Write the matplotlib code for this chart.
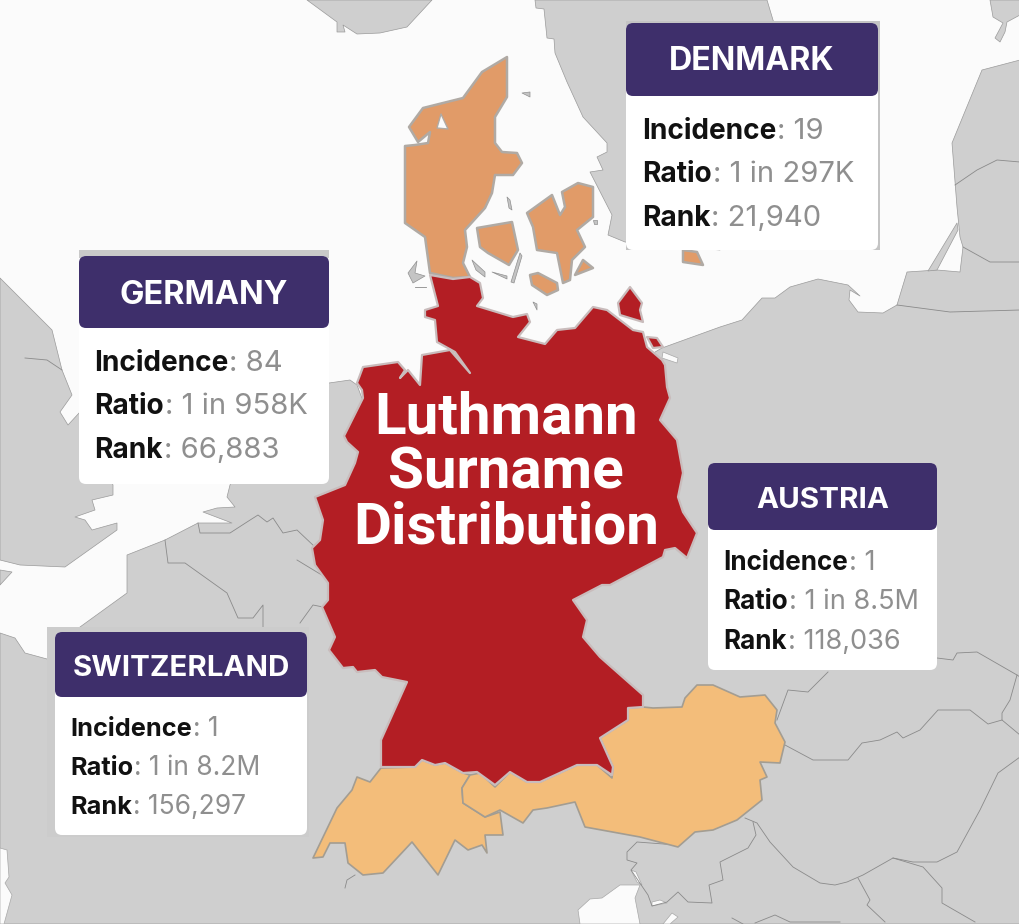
import matplotlib
matplotlib.use("Agg")
import matplotlib.pyplot as plt
from matplotlib.patches import FancyBboxPatch, Rectangle

# ---------- data: report cards ----------
countries = ["DENMARK", "GERMANY", "AUSTRIA", "SWITZERLAND"]
incidence = ["19", "84", "1", "1"]
ratio = ["1 in 297K", "1 in 958K", "1 in 8.5M", "1 in 8.2M"]
rank = ["21,940", "66,883", "118,036", "156,297"]
title_lines = ["Luthmann", "Surname", "Distribution"]

# ---------- data: map outlines ----------
germany = [(430,275),(453,279),(470,277),(480,283),(483,298),(477,306),(513,317),(527,314),(530,322),(518,337),(545,344),(557,330),(575,328),(593,307),(607,310),(633,330),(643,332),(647,347),(662,360),(665,365),(667,387),(670,398),(660,420),(677,440),(683,473),(678,497),(683,512),(697,533),(687,558),(675,548),(665,550),(663,557),(610,585),(602,585),(573,600),(587,620),(583,637),(600,657),(643,695),(643,707),(628,708),(628,720),(600,738),(613,767),(612,775),(597,765),(577,765),(540,782),(527,782),(510,772),(495,785),(477,772),(463,773),(445,763),(435,765),(422,760),(415,767),(381,767),(381,740),(407,682),(382,677),(375,670),(357,672),(353,667),(343,668),(329,650),(335,637),(322,607),(328,600),(328,583),(315,565),(312,548),(320,540),(323,520),(315,497),(345,485),(355,463),(358,452),(347,442),(344,436),(363,398),(362,390),(357,383),(363,367),(398,362),(405,370),(400,378),(408,370),(420,385),(422,355),(450,350),(470,373),(455,352),(437,342),(435,320),(425,317),(425,310),(438,306)]
ruegen = [(630,287),(642,303),(640,310),(643,322),(620,315),(618,303)]
usedom = [(647,337),(657,338),(663,347),(653,348)]
jutland = [(507,57),(482,72),(463,98),(423,108),(409,127),(418,142),(430,132),(428,143),(415,145),(405,146),(405,223),(425,237),(430,273),(453,278),(470,277),(463,263),(467,247),(465,230),(485,208),(492,193),(495,175),(513,175),(522,163),(517,153),(502,152),(495,143),(495,117),(507,97)]
jutland_notch = [(441,114),(437,128),(448,129)]
funen = [(477,228),(512,222),(518,250),(509,265),(488,253),(480,247)]
zealand = [(527,213),(552,195),(560,215),(565,207),(562,192),(578,183),(593,187),(593,217),(577,230),(585,247),(572,260),(570,280),(563,283),(557,253),(537,250),(533,227)]
lolland = [(530,275),(538,273),(557,283),(558,290),(547,295),(532,285)]
moen = [(575,275),(583,260),(593,268)]
bornholm = [(683,250),(697,252),(703,265),(683,262)]
austria = [(697,685),(713,685),(740,697),(765,695),(777,710),(775,723),(785,742),(780,763),(760,762),(767,777),(760,780),(762,800),(737,820),(713,830),(695,832),(678,847),(640,837),(585,827),(575,802),(547,808),(533,810),(523,823),(500,810),(485,817),(463,803),(462,788),(470,775),(480,773),(495,787),(510,772),(527,782),(540,782),(577,765),(597,765),(612,778),(613,767),(600,738),(628,720),(628,708),(643,707),(653,708),(682,707),(685,698)]
switzerland = [(313,858),(323,857),(330,843),(345,843),(348,863),(363,875),(383,873),(412,842),(438,875),(455,840),(468,850),(482,845),(487,853),(485,835),(503,835),(500,812),(485,817),(463,803),(462,788),(470,775),(463,773),(445,763),(435,765),(422,760),(415,767),(381,768),(370,782),(357,777),(352,790),(337,808)]

continent = [(0,633),(15,638),(25,653),(47,659),(80,627),(127,593),(127,555),(165,540),(198,523),(232,523),(203,512),(217,508),(235,507),(227,497),(230,485),(260,420),(329,383),(350,380),(357,385),(400,500),(662,348),(720,327),(742,320),(762,298),(775,298),(790,287),(818,279),(848,285),(860,296),(850,290),(849,300),(858,312),(883,313),(897,305),(907,272),(937,270),(960,272),(963,247),(960,237),(957,207),(952,143),(982,70),(1020,60),(1020,924),(0,924)]
britain = [(0,278),(52,330),(62,370),(72,395),(60,412),(68,425),(80,412),(113,485),(113,495),(92,500),(95,510),(75,517),(85,520),(92,530),(117,523),(117,530),(65,567),(20,565),(0,560)]
wight = [(0,570),(12,572),(0,585)]
sweden = [(535,0),(536,8),(544,9),(547,38),(554,39),(555,53),(567,82),(583,117),(607,143),(607,152),(597,157),(603,170),(590,172),(612,215),(608,235),(625,242),(720,250),(800,100),(773,20),(767,0)]
norway = [(307,0),(337,22),(337,32),(345,32),(343,25),(357,34),(380,33),(407,27),(432,0)]
estonia_isle = [(990,0),(993,17),(1003,23),(995,38),(1000,42),(1005,32),(1007,22),(1020,15),(1020,0)]
curonian = [(928,271),(957,223),(958,230),(937,270)]
grey_islets = [
    [(408,273),(417,261),(415,273),(425,276),(413,283)],
    [(472,260),(485,272),(485,277),(476,270)],
    [(492,272),(507,276),(507,279)],
    [(520,253),(522,256),(514,283),(511,282)],
    [(507,197),(510,200),(512,210),(509,208)],
    [(522,93),(530,92),(530,97)],
    [(533,302),(537,304),(537,310)],
    [(593,220),(597,220),(597,224),(594,224)],
]
biscay = [(0,848),(7,850),(9,877),(5,883),(12,895),(4,924),(0,924)]
adriatic = [(578,910),(590,899),(602,898),(620,885),(640,885),(635,898),(640,924),(580,924)]
lagoon = [(631,870),(636,872),(642,885),(637,882)]
trieste = [(652,902),(660,900),(667,903),(652,906)]
kvarner = [(663,924),(672,913),(678,917),(670,924)]
oder_mouth = [(663,352),(678,358),(677,363),(662,358)]

borders = [
    [(165,540),(168,563),(185,563),(227,593),(238,618),(253,618),(263,605),(263,627)],
    [(198,523),(200,533),(230,533),(247,522),(258,515),(267,522),(273,518),(283,533),(297,530),(315,547)],
    [(297,560),(325,577)],
    [(300,623),(313,605),(323,607)],
    [(25,358),(47,360),(62,370)],
    [(777,720),(788,690),(808,692),(828,672)],
    [(785,745),(813,760),(848,760),(862,743),(880,740),(897,732),(903,738),(920,730),(938,710),(970,710),(988,724),(1002,720),(1020,735)],
    [(937,658),(953,660),(957,653),(977,652),(1017,675),(1020,677)],
    [(1017,675),(1010,700),(1002,713),(1002,720)],
    [(1020,757),(998,773),(980,810),(957,852),(937,862),(913,862),(893,858),(863,875),(847,882),(835,885),(820,883),(793,867),(770,842),(757,823),(745,818)],
    [(893,858),(923,867),(942,888),(942,903),(975,922)],
    [(858,878),(870,900),(867,905),(885,922)],
    [(677,845),(637,842),(627,852),(627,860),(637,863),(631,870),(648,895),(652,906),(667,902),(678,892),(688,902),(712,903),(709,885),(723,880),(720,862),(748,848),(756,835),(753,822)],
    [(755,923),(775,915),(790,922),(840,922)],
    [(732,918),(743,924)],
    [(955,185),(977,170),(997,160),(1020,162)],
    [(963,247),(990,262),(1020,262)],
    [(897,305),(950,312),(1020,310)],
    [(345,888),(347,880),(355,875)],
    [(415,287),(426,287)],
]

SEA, LAND = "#fbfbfb", "#cfcfcf"
RED, ORANGE, PEACH = "#b31e24", "#e19b68", "#f3bd7a"
NAVY, GREY_TXT = "#3e2f6b", "#8f8f8f"

plt.rcParams["font.family"] = ["Inter", "DejaVu Sans"]
fig = plt.figure(figsize=(10.2, 9.24), dpi=100, facecolor=SEA)
ax = fig.add_axes([0, 0, 1, 1])
ax.set_xlim(0, 1020)
ax.set_ylim(924, 0)
ax.axis("off")


def poly(pts, fc, ec="none", lw=0.0, z=1):
    xs, ys = zip(*pts)
    ax.fill(xs, ys, facecolor=fc, edgecolor=ec, linewidth=lw, zorder=z, joinstyle="round")


for shape in [continent, britain, wight, sweden, norway, estonia_isle, curonian]:
    poly(shape, LAND, "#9a9a9a", 0.5, 1)
for shape in [biscay, adriatic, lagoon, trieste, kvarner, oder_mouth]:
    poly(shape, SEA, "#a8a8a8", 0.5, 2)
for line in borders:
    xs, ys = zip(*line)
    ax.plot(xs, ys, color="#8a8a8a", lw=0.6, zorder=3)

for shape in [switzerland, austria]:
    poly(shape, PEACH, "#a39d92", 1.2, 4)
for shape in [jutland, funen, zealand, lolland, moen, bornholm]:
    poly(shape, ORANGE, "#b0aaa4", 1.8, 4)
poly(jutland_notch, SEA, "#b0aaa4", 1.0, 5)
for shape in grey_islets:
    poly(shape, "#c4c4c4", "#909090", 0.5, 4)
for shape in [germany, ruegen, usedom]:
    poly(shape, RED, "#c9bcbc", 1.6, 5)

# leftovers of the pasted cards
ax.add_patch(Rectangle((79, 250), 250, 8, fc="#c9c9c9", ec="none", zorder=6))
ax.add_patch(Rectangle((47, 627), 262, 210, fc="#cccccc", ec="none", zorder=6))
ax.add_patch(Rectangle((626, 21), 254, 229, fc="#c4c4c4", ec="none", zorder=6))

# (left, top, right, header bottom, bottom, centre y of title, three row ys, text x, sizes)
cards = [
    (626, 23, 878, 96, 250, 59, (130, 173, 217), 642, 23.2, 21.0),
    (79, 256, 329, 328, 484, 292, (362, 405, 449), 94, 23.4, 21.0),
    (708, 463, 937, 530, 670, 497, (561, 600, 640), 723, 21.3, 19.5),
    (55, 632, 307, 697, 835, 665, (727, 766, 805), 70, 21.2, 19.0),
]


def rounded(x0, y0, x1, y1, fc, z, r=7):
    ax.add_patch(FancyBboxPatch((x0 + r, y0 + r), x1 - x0 - 2 * r, y1 - y0 - 2 * r,
                                boxstyle=f"round,pad={r},rounding_size={r}",
                                fc=fc, ec="none", zorder=z))


fig.canvas.draw()
renderer = fig.canvas.get_renderer()
for name, inc, rat, rnk, card in zip(countries, incidence, ratio, rank, cards):
    x0, y0, x1, yh, y1, yt, rows, tx, fs_head, fs_row = card
    rounded(x0, y0, x1, y1, "white", 7)
    rounded(x0, y0, x1, yh, NAVY, 8)
    ax.text((x0 + x1) / 2, yt + 3, name, color="white", fontsize=fs_head, weight="bold",
            ha="center", va="center", zorder=9)
    for label, value, y in zip(["Incidence", "Ratio", "Rank"], [inc, rat, rnk], rows):
        t = ax.text(tx, y + 9, label, color="#111111", fontsize=fs_row * 0.96, weight="bold",
                    ha="left", va="baseline", zorder=9)
        bb = t.get_window_extent(renderer)
        xe = ax.transData.inverted().transform((bb.x1, bb.y0))[0]
        ax.text(xe + 1, y + 9, ": " + value, color=GREY_TXT, fontsize=fs_row * 1.0,
                ha="left", va="baseline", zorder=9)

for line, y in zip(title_lines, (418, 473, 528)):
    ax.text(506, y, line, color="white", fontsize=42, weight="bold", family="Roboto",
            ha="center", va="center", zorder=10)

fig.savefig("out.png", dpi=100, facecolor=SEA)
